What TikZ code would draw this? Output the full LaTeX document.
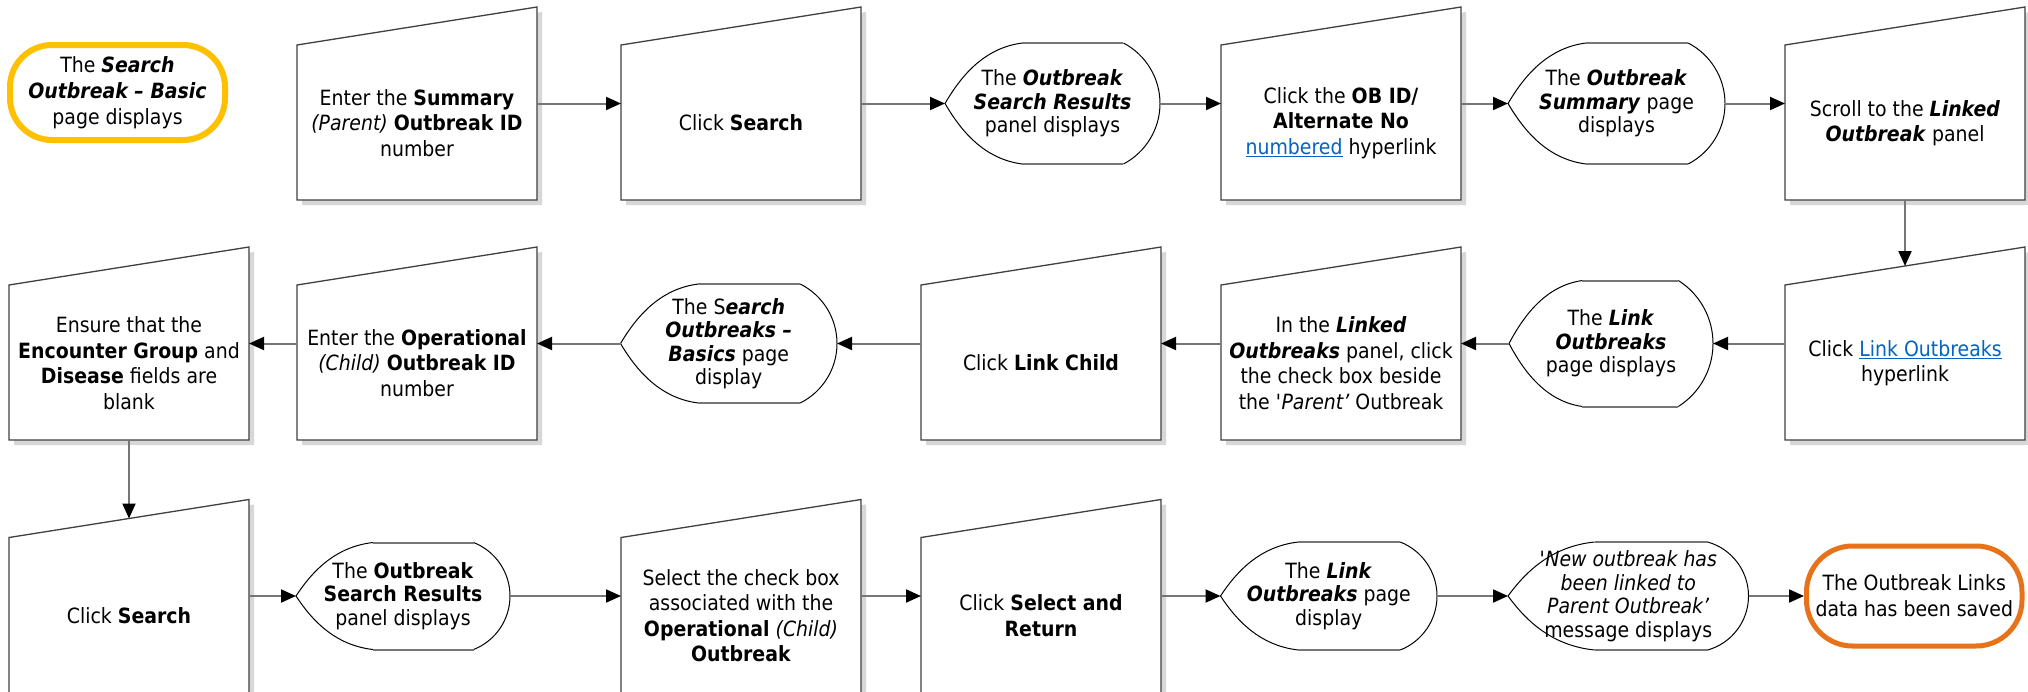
\documentclass[tikz,border=0pt]{standalone}
\usepackage{fontspec}
\setmainfont{DejaVu Sans}[FakeStretch=0.9]
\usetikzlibrary{arrows.meta}
\definecolor{arrgray}{RGB}{118,118,118}
\definecolor{linkblue}{RGB}{5,99,193}
\definecolor{startc}{RGB}{255,192,0}
\definecolor{endc}{RGB}{232,114,26}
\definecolor{shadowc}{RGB}{215,215,215}
\definecolor{edgec}{RGB}{64,64,64}
\newcommand\bfit[1]{\textbf{\textit{#1}}}
\newcommand\hlink[1]{\textcolor{linkblue}{\underline{#1}}}
\tikzset{
  mi/.style={rectangle, draw=none, minimum width=240pt, minimum height=193pt, inner sep=0pt, outer sep=0pt},
  miline/.style={draw=edgec, line width=1.3pt, fill=white, line join=miter},
  mishadow/.style={fill=shadowc},
  txt/.style={align=center, inner sep=0pt, font=\fontsize{21}{25.5}\selectfont},
  dnode/.style={rectangle, align=center, inner sep=0pt, outer sep=0pt, font=\fontsize{21}{23.5}\selectfont},
  dline/.style={draw=black, line width=1pt},
  dflat/.style={draw=arrgray, line width=2pt},
  term/.style={rectangle, align=center, inner sep=0pt, fill=white, font=\fontsize{21}{26}\selectfont},
  conn/.style={draw=arrgray, line width=2pt, -{Triangle[length=15pt,width=13pt,color=black]}},
}
% #1 name, #2 cx, #3 cy, #4 extra bottom extension (pt), #5 text
\newcommand\mibox[5]{%
  \node[mi] (#1) at (#2,#3) {};
  \fill[mishadow] ([shift={(5pt,-5pt-#4)}]#1.south west) -- ([shift={(5pt,-43pt)}]#1.north west) -- ([shift={(5pt,-5pt)}]#1.north east) -- ([shift={(5pt,-5pt-#4)}]#1.south east) -- cycle;
  \draw[miline] ([yshift=-#4]#1.south west) -- ([yshift=-38pt]#1.north west) -- (#1.north east) -- ([yshift=-#4]#1.south east) -- cycle;
  \node[txt] (#1t) at ([yshift=-19.5pt]#1.center) {#5};
}
\newcommand\dispbox[6]{%
  \pgfmathsetmacro\qT{#4-#5/2}%
  \pgfmathsetmacro\qB{#4+#5/2}%
  \pgfmathsetmacro\qW{#3-#2}%
  \pgfmathsetmacro\qC{0.17*\qW}%
  \pgfmathsetmacro\qA{0.36*\qW}%
  \pgfmathsetmacro\qRad{(\qC*\qC+(#5/2)*(#5/2))/(2*\qC)}%
  \pgfmathsetmacro\qTh{atan2(#5/2,\qRad-\qC)}%
  \pgfmathsetmacro\qK{4/3*tan(\qTh/4)*\qRad}%
  \pgfmathsetmacro\qPx{#3-\qC+\qK*sin(\qTh)}%
  \pgfmathsetmacro\qPy{\qK*cos(\qTh)}%
  \path[fill=white] ({#2+\qA},\qT) -- ({#3-\qC},\qT) .. controls (\qPx,{\qT+\qPy}) and (#3,{#4-\qK}) .. (#3,#4) .. controls (#3,{#4+\qK}) and (\qPx,{\qB-\qPy}) .. ({#3-\qC},\qB) -- ({#2+\qA},\qB) .. controls ({#2+0.5*\qA},{\qB-0.04*#5}) and ({#2+0.2*\qA},{#4+0.22*#5}) .. (#2,#4) .. controls ({#2+0.2*\qA},{#4-0.22*#5}) and ({#2+0.5*\qA},{\qT+0.04*#5}) .. cycle;
  \draw[dline] ({#3-\qC},\qT) .. controls (\qPx,{\qT+\qPy}) and (#3,{#4-\qK}) .. (#3,#4) .. controls (#3,{#4+\qK}) and (\qPx,{\qB-\qPy}) .. ({#3-\qC},\qB);
  \draw[dline] ({#2+\qA},\qB) .. controls ({#2+0.5*\qA},{\qB-0.04*#5}) and ({#2+0.2*\qA},{#4+0.22*#5}) .. (#2,#4) .. controls ({#2+0.2*\qA},{#4-0.22*#5}) and ({#2+0.5*\qA},{\qT+0.04*#5}) .. ({#2+\qA},\qT);
  \draw[dflat] ({#2+\qA},\qT) -- ({#3-\qC},\qT);
  \draw[dflat] ({#2+\qA},\qB) -- ({#3-\qC},\qB);
  \node[dnode, minimum width=\qW pt, minimum height=#5 pt] (#1) at ({(#2+#3)/2},#4) {#6};
}
\begin{document}
\begin{tikzpicture}[x=1pt,y=-1pt]
\useasboundingbox[fill=white] (0,0) rectangle (2028,691);

% row 1
\node[term, draw=startc, line width=6pt, minimum width=215pt, minimum height=95pt, rounded corners=42pt] (start) at (117.5,92.5)
  {The \bfit{Search}\\ \bfit{Outbreak – Basic}\\ page displays};
\mibox{b1}{417}{103.5}{0pt}{Enter the \textbf{Summary}\\ \textit{(Parent)} \textbf{Outbreak ID}\\ number}
\mibox{b2}{741}{103.5}{0pt}{Click \textbf{Search}}
\dispbox{d1}{945}{1160}{103.5}{121}{The \bfit{Outbreak}\\ \bfit{Search Results}\\ panel displays}
\mibox{b3}{1341}{103.5}{0pt}{Click the \textbf{OB ID/}\\ \textbf{Alternate No}\\ \hlink{numbered} hyperlink}
\dispbox{d2}{1508}{1725}{103.5}{121}{The \bfit{Outbreak}\\ \bfit{Summary} page\\ displays}
\mibox{b4}{1905}{103.5}{0pt}{Scroll to the \bfit{Linked}\\ \bfit{Outbreak} panel}

% row 2
\mibox{b5}{1905}{343.5}{0pt}{Click \hlink{Link Outbreaks}\\ hyperlink}
\dispbox{d3}{1509}{1713}{343.5}{126}{The \bfit{Link}\\ \bfit{Outbreaks}\\ page displays}
\mibox{b6}{1341}{343.5}{0pt}{In the \bfit{Linked}\\ \bfit{Outbreaks} panel, click\\ the check box beside\\ the \textit{\textquotesingle Parent’} Outbreak}
\mibox{b7}{1041}{343.5}{0pt}{Click \textbf{Link Child}}
\dispbox{d4}{620.5}{837}{343.5}{119}{The S\bfit{earch}\\ \bfit{Outbreaks –}\\ \bfit{Basics} page\\ display}
\mibox{b8}{417}{343.5}{0pt}{Enter the \textbf{Operational}\\ \textit{(Child)} \textbf{Outbreak ID}\\ number}
\mibox{b9}{129}{343.5}{0pt}{Ensure that the\\ \textbf{Encounter Group} and\\ \textbf{Disease} fields are\\ blank}

% row 3
\mibox{b10}{129}{596}{8pt}{Click \textbf{Search}}
\dispbox{d5}{296}{510}{596}{107}{The \textbf{Outbreak}\\ \textbf{Search Results}\\ panel displays}
\mibox{b11}{741}{596}{8pt}{Select the check box\\ associated with the\\ \textbf{Operational} \textit{(Child)}\\ \textbf{Outbreak}}
\mibox{b12}{1041}{596}{8pt}{Click \textbf{Select and}\\ \textbf{Return}}
\dispbox{d6}{1220.5}{1437}{596}{108}{The \bfit{Link}\\ \bfit{Outbreaks} page\\ display}
\dispbox{d7}{1508}{1748.5}{596}{108}{\textit{\textquotesingle New outbreak has}\\ \textit{been linked to}\\ \textit{Parent Outbreak’}\\ message displays}
\node[term, draw=endc, line width=5pt, minimum width=215.5pt, minimum height=100pt, rounded corners=46pt] (end) at (1914.25,596)
  {The Outbreak Links\\ data has been saved};

% connectors
\coordinate (b5in) at ([yshift=-19pt]b5.north);
\coordinate (b10in) at ([yshift=-19pt]b10.north);
\draw[conn] (b1.east) -- (b2.west);
\draw[conn] (b2.east) -- (d1.west);
\draw[conn] (d1.east) -- (b3.west);
\draw[conn] (b3.east) -- (d2.west);
\draw[conn] (d2.east) -- (b4.west);
\draw[conn] (b4.south) -- (b5in);
\draw[conn] (b5.west) -- (d3.east);
\draw[conn] (d3.west) -- (b6.east);
\draw[conn] (b6.west) -- (b7.east);
\draw[conn] (b7.west) -- (d4.east);
\draw[conn] (d4.west) -- (b8.east);
\draw[conn] (b8.west) -- (b9.east);
\draw[conn] (b9.south) -- (b10in);
\draw[conn] (b10.east) -- (d5.west);
\draw[conn] (d5.east) -- (b11.west);
\draw[conn] (b11.east) -- (b12.west);
\draw[conn] (b12.east) -- (d6.west);
\draw[conn] (d6.east) -- (d7.west);
\draw[conn] (d7.east) -- (end.west);
\end{tikzpicture}
\end{document}
